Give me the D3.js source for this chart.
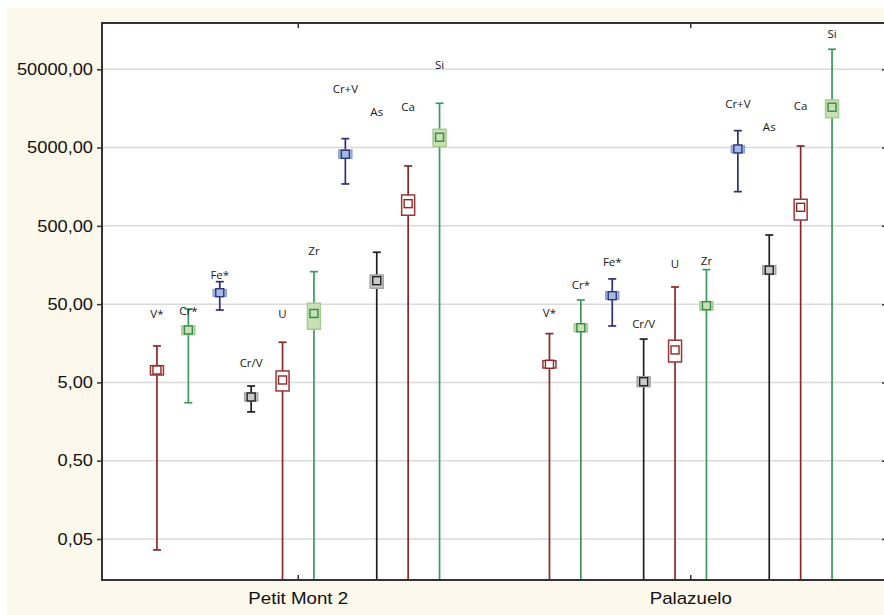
<!DOCTYPE html>
<html><head><meta charset="utf-8">
<script src="https://cdn.jsdelivr.net/npm/d3@7"></script>
<style>html,body{margin:0;padding:0;background:#fff;overflow:hidden}</style>
</head><body>
<svg id="chart" width="884" height="615" style="display:block"></svg>
<script>
// ---------- data ----------
const groups = ["Petit Mont 2", "Palazuelo"];
const elements = ["V*", "Cr*", "Fe*", "Cr/V", "U", "Zr", "Cr+V", "As", "Ca", "Si"];
const yTicks = [0.05, 0.5, 5, 50, 500, 5000, 50000];

// Petit Mont 2
const pmMean      = [7.21, 23.4, 70.0, 3.26, 5.37, 38.0, 4105, 99.7, 960, 6770];
const pmBoxHi     = [8.18, 26.3, 76.5, 3.66, 7.0, 51.3, 4660, 118, 1240, 8570];
const pmBoxLo     = [6.22, 20.4, 63.0, 2.90, 3.89, 23.9, 3650, 79.7, 683, 5140];
const pmWhiskerHi = [14.6, 43.4, 96.8, 4.50, 16.3, 130, 6500, 230, 2910, 18400];
const pmWhiskerLo = [0.0362, 2.75, 42.1, 2.10, 0.01, 0.01, 1714, 0.01, 0.01, 0.01];
const pmLabelAt   = [33.3, 36.4, 105, 7.87, 33.3, 212, 24900, 12670, 14680, 50500];

// Palazuelo
const paMean      = [8.53, 25.0, 64.1, 5.11, 13.0, 47.8, 4800, 136, 863, 16370];
const paBoxHi     = [9.48, 27.9, 72.1, 5.92, 17.3, 53.8, 5290, 155, 1093, 20270];
const paBoxLo     = [7.64, 22.2, 57.7, 4.41, 9.12, 42.1, 4300, 120, 594, 12050];
const paWhiskerHi = [21.0, 56.5, 105, 17.9, 82.8, 138, 8220, 382, 5240, 90100];
const paWhiskerLo = [0.01, 0.01, 26.3, 0.01, 0.01, 0.01, 1367, 0.01, 0.01, 0.01];
const paLabelAt   = [34.3, 78.1, 153, 24.8, 145, 158, 16000, 8150, 15100, 125600];

// ---------- styles ----------
const styleOf = {"V*":"red","Cr*":"green","Fe*":"blue","Cr/V":"black","U":"red","Zr":"green",
                 "Cr+V":"blue","As":"black","Ca":"red","Si":"green"};
const styles = {
  red:   {line:"#8e2727", boxFill:"#ffffff", boxStroke:"#9c3636", mFill:"#ffffff", mStroke:"#8e2727"},
  green: {line:"#3c9a5e", boxFill:"#c8e0b4", boxStroke:"#a6cc8e", mFill:"#c8e0b4", mStroke:"#36894d"},
  blue:  {line:"#2f2c7c", boxFill:"#a3bde0", boxStroke:"#8aa5d2", mFill:"#a3bde0", mStroke:"#34327e"},
  black: {line:"#1e1e1e", boxFill:"#c8c8c8", boxStroke:"#a6a6a6", mFill:"#cacaca", mStroke:"#222222"}
};

const rows = [];
[[pmMean,pmBoxHi,pmBoxLo,pmWhiskerHi,pmWhiskerLo,pmLabelAt],
 [paMean,paBoxHi,paBoxLo,paWhiskerHi,paWhiskerLo,paLabelAt]].forEach((arr,gi)=>{
  elements.forEach((e,i)=>rows.push({group:groups[gi], el:e, mean:arr[0][i], boxHi:arr[1][i],
    boxLo:arr[2][i], wHi:arr[3][i], wLo:arr[4][i], lab:arr[5][i]}));
});

// ---------- layout ----------
const W = 884, H = 615;
const L = 102, R = 887, T = 23, B = 580;
const svg = d3.select("#chart");

svg.append("rect").attr("x",7).attr("y",8).attr("width",W-7).attr("height",H-8).attr("fill","#fcf8ec");
svg.append("rect").attr("x",L).attr("y",T).attr("width",R-L).attr("height",B-T).attr("fill","#ffffff");

const y = d3.scaleLog().domain([0.01497, 195000]).range([B, T]);
const x0 = d3.scaleBand().domain(groups).range([L, R]);
const x1 = d3.scalePoint().domain(elements).range([0, x0.bandwidth()]).padding(1.75);
const xc = d => x0(d.group) + x1(d.el);

svg.append("clipPath").attr("id","plotclip").append("rect")
  .attr("x",L).attr("y",T).attr("width",R-L).attr("height",B-T);

// gridlines
svg.append("g").selectAll("line").data(yTicks).join("line")
  .attr("x1",L).attr("x2",R).attr("y1",d=>y(d)).attr("y2",d=>y(d))
  .attr("stroke","#dadada").attr("stroke-width",1.5);

// marks
const plot = svg.append("g").attr("clip-path","url(#plotclip)");
const g = plot.selectAll("g.mark").data(rows).join("g").attr("class","mark");
g.append("line")
  .attr("x1",xc).attr("x2",xc)
  .attr("y1",d=>y(d.wHi)).attr("y2",d=>y(d.wLo))
  .attr("stroke",d=>styles[styleOf[d.el]].line).attr("stroke-width",1.7);
g.append("line")
  .attr("x1",d=>xc(d)-4).attr("x2",d=>xc(d)+4)
  .attr("y1",d=>y(d.wHi)).attr("y2",d=>y(d.wHi))
  .attr("stroke",d=>styles[styleOf[d.el]].line).attr("stroke-width",1.7);
g.append("line")
  .attr("x1",d=>xc(d)-4).attr("x2",d=>xc(d)+4)
  .attr("y1",d=>y(d.wLo)).attr("y2",d=>y(d.wLo))
  .attr("stroke",d=>styles[styleOf[d.el]].line).attr("stroke-width",1.7);
g.append("rect")
  .attr("x",d=>xc(d)-6.5).attr("width",13)
  .attr("y",d=>y(d.boxHi)).attr("height",d=>y(d.boxLo)-y(d.boxHi))
  .attr("fill",d=>styles[styleOf[d.el]].boxFill)
  .attr("stroke",d=>styles[styleOf[d.el]].boxStroke).attr("stroke-width",1.5);
g.append("rect")
  .attr("x",d=>xc(d)-4).attr("width",8)
  .attr("y",d=>y(d.mean)-4).attr("height",8)
  .attr("fill",d=>styles[styleOf[d.el]].mFill)
  .attr("stroke",d=>styles[styleOf[d.el]].mStroke).attr("stroke-width",1.4);

// element labels
svg.append("g").selectAll("text").data(rows).join("text")
  .attr("x",xc).attr("y",d=>y(d.lab))
  .attr("text-anchor","middle")
  .attr("font-family","'Open Sans', Lato, sans-serif").attr("font-size","11.5px")
  .attr("fill","#1a1a1a").text(d=>d.el);

// frame (left, top, bottom; right side lies outside the picture)
const frame = svg.append("g").attr("stroke","#333").attr("stroke-width",2).attr("fill","none");
frame.append("line").attr("x1",L).attr("x2",L).attr("y1",T).attr("y2",B+1);
frame.append("line").attr("x1",L-1).attr("x2",W).attr("y1",B).attr("y2",B);
frame.append("line").attr("x1",L-1).attr("x2",W).attr("y1",T).attr("y2",T);

// left axis
const fmt = v => d3.format(".2f")(v).replace(".", ",");
const yAxis = svg.append("g").attr("transform",`translate(${L},0)`)
  .call(d3.axisLeft(y).tickValues(yTicks).tickFormat("").tickSize(5).tickSizeOuter(0));
yAxis.select(".domain").remove();
yAxis.selectAll(".tick line").attr("stroke","#333").attr("stroke-width",1.5);
const ylab = svg.append("g").selectAll("g").data(yTicks).join("g")
  .attr("transform",d=>`translate(${L-9},${y(d)})`);
ylab.append("text").attr("transform","scale(1.14,1)")
  .attr("text-anchor","end").attr("dy","0.36em")
  .attr("font-family","'Liberation Sans', Arial, sans-serif").attr("font-size","16px")
  .attr("fill","#111").text(fmt);

// right axis inward ticks
const rAxis = svg.append("g").attr("transform",`translate(${R},0)`)
  .call(d3.axisLeft(y).tickValues(yTicks).tickFormat("").tickSize(5).tickSizeOuter(0));
rAxis.select(".domain").remove();
rAxis.selectAll(".tick line").attr("stroke","#333").attr("stroke-width",1.5);

// bottom and top axes (inward ticks at group centers)
const xCenters = g2 => x0(g2) + x0.bandwidth()/2;
const bAxis = svg.append("g").attr("transform",`translate(0,${B})`)
  .call(d3.axisTop(x0).tickSize(5).tickSizeOuter(0).tickFormat(""));
bAxis.select(".domain").remove();
bAxis.selectAll(".tick line").attr("stroke","#333").attr("stroke-width",1.5);
const tAxis = svg.append("g").attr("transform",`translate(0,${T})`)
  .call(d3.axisBottom(x0).tickSize(5).tickSizeOuter(0).tickFormat(""));
tAxis.select(".domain").remove();
tAxis.selectAll(".tick line").attr("stroke","#333").attr("stroke-width",1.5);

const glab = svg.append("g").selectAll("g").data(groups).join("g")
  .attr("transform",d=>`translate(${xCenters(d)},604)`);
glab.append("text").attr("transform","scale(1.17,1)")
  .attr("text-anchor","middle")
  .attr("font-family","'Liberation Sans', Arial, sans-serif").attr("font-size","16px")
  .attr("fill","#111").text(d=>d);
</script>
</body></html>
